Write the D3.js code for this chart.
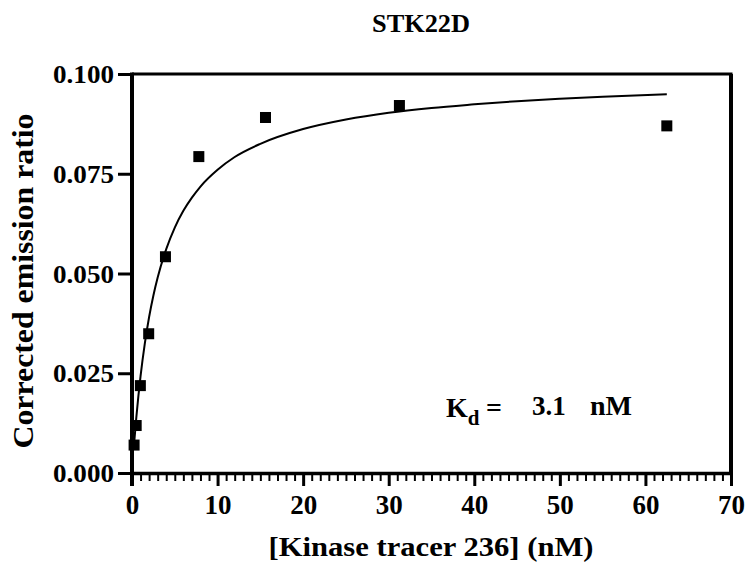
<!DOCTYPE html>
<html><head><meta charset="utf-8">
<script src="https://cdn.jsdelivr.net/npm/d3@7"></script>
<style>
html,body{margin:0;padding:0;background:#fff;}
</style></head>
<body>
<svg id="chart" width="748" height="566" font-family="Liberation Serif" style="font-family:'Liberation Serif'"></svg>
<script>
// Data
const chartTitle = "STK22D";
const xLabel = "[Kinase tracer 236] (nM)";
const yLabel = "Corrected emission ratio";
const tracerConc = [0.244, 0.488, 0.977, 1.95, 3.91, 7.81, 15.6, 31.25, 62.5];
const emissionRatio = [0.0070, 0.0119, 0.0219, 0.0349, 0.0542, 0.0793, 0.0891, 0.0921, 0.0870];
// fitted saturation curve
const fitX = [0.244, 0.5, 0.75, 1, 1.5, 2, 2.5, 3, 4, 5, 6, 7, 8, 10, 12, 15, 20, 25, 30, 35, 40, 45, 50, 55, 62.5];
const fitY = [0.0073, 0.0138, 0.0194, 0.0243, 0.0325, 0.0391, 0.0445, 0.0490, 0.0561, 0.0615, 0.0657, 0.0690, 0.0718, 0.0760, 0.0792, 0.0825, 0.0862, 0.0886, 0.0903, 0.0915, 0.0924, 0.0932, 0.0938, 0.0943, 0.0949];
const xTicks = [0, 10, 20, 30, 40, 50, 60, 70];
const xMinorTicks = d3.range(0, 71, 1);
const yTicks = [0.000, 0.025, 0.050, 0.075, 0.100];
const kdValue = "3.1";

const svg = d3.select("#chart");
const x = d3.scaleLinear().domain([0, 70]).range([132, 731]);
const y = d3.scaleLinear().domain([0, 0.1]).range([473, 74]);

function serif(sel) {
  return sel.attr("font-family", "Liberation Serif").style("font-family", "Liberation Serif")
    .attr("font-weight", "bold").attr("fill", "#000");
}

// frame (top & right)
svg.append("line").attr("x1", x(0)).attr("x2", x(70) + 1.5).attr("y1", y(0.1)).attr("y2", y(0.1))
  .attr("stroke", "#000").attr("stroke-width", 3);
svg.append("line").attr("x1", x(70)).attr("x2", x(70)).attr("y1", y(0.1)).attr("y2", y(0))
  .attr("stroke", "#000").attr("stroke-width", 4);

// x minor ticks
const xMinor = svg.append("g").attr("transform", `translate(0,${y(0)})`)
  .call(d3.axisBottom(x).tickValues(xMinorTicks.filter(v => v % 10 !== 0)).tickSize(8).tickFormat(""));
xMinor.select(".domain").remove();
xMinor.selectAll("line").attr("stroke-width", 2);

// x major axis
const xAxis = svg.append("g").attr("transform", `translate(0,${y(0)})`)
  .call(d3.axisBottom(x).tickValues(xTicks).tickSize(13).tickSizeOuter(0).tickPadding(14).tickFormat(d3.format("d")));
xAxis.attr("font-family", "Liberation Serif");
xAxis.select(".domain").attr("stroke-width", 3.5);
xAxis.selectAll(".tick line").attr("stroke-width", 3);
serif(xAxis.selectAll("text")).attr("font-size", 27).attr("dy", null).attr("y", 41);

// y axis
const yAxis = svg.append("g").attr("transform", `translate(${x(0)},0)`)
  .call(d3.axisLeft(y).tickValues(yTicks).tickSize(14).tickSizeOuter(0).tickPadding(5).tickFormat(d3.format(".3f")));
yAxis.attr("font-family", "Liberation Serif");
yAxis.select(".domain").attr("stroke-width", 4).attr("d", `M0,${y(0.1) - 1.5}V${y(0) + 13}`);
yAxis.selectAll(".tick line").attr("stroke-width", 3);
serif(yAxis.selectAll("text")).attr("font-size", 25).attr("dy", null).attr("y", 8.5).attr("x", -18)
  .attr("textLength", 61).attr("lengthAdjust", "spacingAndGlyphs");

// fitted curve
const line = d3.line().x((d, i) => x(fitX[i])).y(d => y(d)).curve(d3.curveMonotoneX);
svg.append("path").datum(fitY).attr("d", line).attr("fill", "none").attr("stroke", "#000").attr("stroke-width", 2);

// data points
const sz = 11;
svg.append("g").selectAll("rect").data(tracerConc).join("rect")
  .attr("x", (d) => x(d) - sz / 2).attr("y", (d, i) => y(emissionRatio[i]) - sz / 2)
  .attr("width", sz).attr("height", sz).attr("fill", "#000");

// titles
serif(svg.append("text")).attr("x", 421).attr("y", 31.5).attr("text-anchor", "middle")
  .attr("font-size", 26).attr("textLength", 98).attr("lengthAdjust", "spacingAndGlyphs").text(chartTitle);
serif(svg.append("text")).attr("x", 431).attr("y", 556).attr("text-anchor", "middle")
  .attr("font-size", 28).attr("textLength", 325).attr("lengthAdjust", "spacingAndGlyphs").text(xLabel);
serif(svg.append("text")).attr("transform", "translate(33,281) rotate(-90)").attr("text-anchor", "middle")
  .attr("font-size", 29).attr("textLength", 335).attr("lengthAdjust", "spacingAndGlyphs").text(yLabel);

// Kd annotation
const kd = serif(svg.append("text")).attr("x", 446).attr("y", 417).attr("font-size", 28);
kd.append("tspan").text("K");
kd.append("tspan").attr("font-size", 21).attr("dy", 8).text("d");
serif(svg.append("text")).attr("x", 486).attr("y", 417).attr("font-size", 28).text("=");
serif(svg.append("text")).attr("x", 532).attr("y", 415).attr("font-size", 27).text(kdValue);
serif(svg.append("text")).attr("x", 590).attr("y", 415).attr("font-size", 28).text("nM");
</script>
</body></html>
